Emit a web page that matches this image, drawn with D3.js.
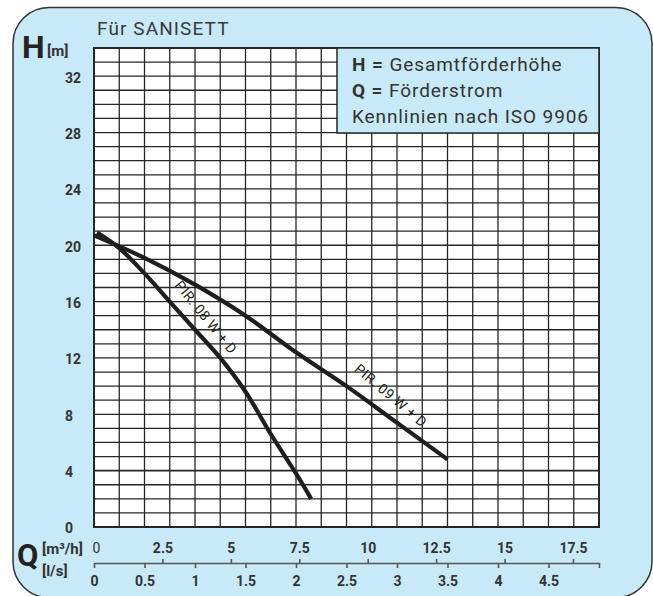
<!DOCTYPE html>
<html lang="de">
<head>
  <meta charset="UTF-8">
  <title>Kennlinien SANISETT</title>
  <style>
    body { margin: 0; background: #fff; }
    svg { display: block; font-family: Roboto, "Noto Sans", sans-serif; }
  </style>
</head>
<body>
  <svg class="chart"></svg>
  <script src="https://cdn.jsdelivr.net/npm/d3@7/dist/d3.min.js"></script>
  <script>
    // Förderstrom Q in l/s, Förderhöhe H in m
    var pir08Q = [0.03, 0.25, 0.5, 0.75, 1.0, 1.25, 1.5, 1.75, 2.0, 2.15];
    var pir08H = [20.9, 19.8, 18.0, 16.0, 14.0, 12.0, 9.6, 6.6, 3.8, 2.0];
    var pir09Q = [0, 0.5, 1.0, 1.5, 2.0, 2.5, 3.0, 3.5];
    var pir09H = [20.7, 19.1, 17.2, 15.0, 12.4, 10.0, 7.4, 4.8];

    var hTicks = [0, 4, 8, 12, 16, 20, 24, 28, 32];
    var lsTicks = [0, 0.5, 1, 1.5, 2, 2.5, 3, 3.5, 4, 4.5, 5];
    var m3Ticks = [0, 2.5, 5, 7.5, 10, 12.5, 15, 17.5];

    var width = 653, height = 596;
    var plotL = 94, plotR = 599, plotT = 48, plotB = 527;
    var ink = "#262626", blue = "#c7e9f8";

    var svg = d3.select("svg")
      .attr("width", width)
      .attr("height", height);

    var x = d3.scaleLinear().domain([0, 5]).range([plotL, plotR]);
    // the m³/h scale in the original is not exactly 3.6 x l/s
    var xM3 = d3.scaleLinear().domain([0, 18.45]).range([plotL, plotR]);
    var y = d3.scaleLinear().domain([0, 34]).range([plotB, plotT]);

    // background card
    svg.append("rect")
      .attr("x", 13).attr("y", 7.5)
      .attr("width", 639).attr("height", 590)
      .attr("rx", 36)
      .attr("fill", blue)
      .attr("stroke", "#333")
      .attr("stroke-width", 1.5);

    // plot area
    svg.append("rect")
      .attr("x", plotL).attr("y", plotT)
      .attr("width", plotR - plotL).attr("height", plotB - plotT)
      .attr("fill", "#fff");

    var grid = svg.append("g").attr("stroke", ink);
    grid.selectAll("line.v")
      .data(d3.range(0, 5.001, 0.25))
      .enter().append("line")
      .attr("class", "v")
      .attr("x1", d => x(d)).attr("x2", d => x(d))
      .attr("y1", plotT).attr("y2", plotB)
      .attr("stroke-width", 1.3);
    grid.selectAll("line.h")
      .data(d3.range(0, 34.001, 1))
      .enter().append("line")
      .attr("class", "h")
      .attr("y1", d => y(d)).attr("y2", d => y(d))
      .attr("x1", plotL).attr("x2", plotR)
      .attr("stroke-width", d => d === 4 ? 1.9 : 1.3);

    svg.append("rect")
      .attr("x", plotL).attr("y", plotT)
      .attr("width", plotR - plotL).attr("height", plotB - plotT)
      .attr("fill", "none")
      .attr("stroke", ink)
      .attr("stroke-width", 2);

    // legend box
    svg.append("rect")
      .attr("x", 337).attr("y", plotT)
      .attr("width", plotR - 337).attr("height", 85)
      .attr("fill", blue)
      .attr("stroke", ink)
      .attr("stroke-width", 1.5);

    var legend = svg.append("g")
      .attr("font-size", 19)
      .attr("letter-spacing", 0.9)
      .attr("fill", "#333");
    var l1 = legend.append("text").attr("x", 352).attr("y", 71);
    l1.append("tspan").attr("font-weight", "bold").text("H = ");
    l1.append("tspan").text("Gesamtförderhöhe");
    var l2 = legend.append("text").attr("x", 352).attr("y", 97);
    l2.append("tspan").attr("font-weight", "bold").text("Q = ");
    l2.append("tspan").text("Förderstrom");
    legend.append("text").attr("x", 352).attr("y", 123)
      .text("Kennlinien nach ISO 9906");

    // curves
    var line = d3.line()
      .x(d => x(d[0]))
      .y(d => y(d[1]))
      .curve(d3.curveCatmullRom);

    svg.append("path")
      .datum(d3.zip(pir08Q, pir08H))
      .attr("d", line)
      .attr("fill", "none")
      .attr("stroke", "#1e1e1e")
      .attr("stroke-width", 4.2);
    svg.append("path")
      .datum(d3.zip(pir09Q, pir09H))
      .attr("d", line)
      .attr("fill", "none")
      .attr("stroke", "#1e1e1e")
      .attr("stroke-width", 4.2);

    svg.append("text")
      .attr("transform", `translate(${x(1.11)},${y(14.9)}) rotate(51)`)
      .attr("text-anchor", "middle")
      .attr("dominant-baseline", "central")
      .attr("font-size", 14)
      .attr("letter-spacing", 0.4)
      .attr("fill", "#222")
      .text("PIR. 08 W + D");
    svg.append("text")
      .attr("transform", `translate(${x(2.94)},${y(9.35)}) rotate(40)`)
      .attr("text-anchor", "middle")
      .attr("dominant-baseline", "central")
      .attr("font-size", 14)
      .attr("letter-spacing", 0.4)
      .attr("fill", "#222")
      .text("PIR. 09 W + D");

    // H axis labels
    svg.append("g")
      .selectAll("text")
      .data(hTicks)
      .enter().append("text")
      .attr("x", 65)
      .attr("y", d => y(d) + 1.5)
      .attr("dy", "0.35em")
      .attr("font-size", 14)
      .attr("font-weight", "bold")
      .attr("fill", "#333")
      .text(d => d);

    // Q axes (l/s below, m³/h above one shared line)
    var axisY = 563;
    var lsAxis = svg.append("g")
      .attr("transform", `translate(0,${axisY})`)
      .call(d3.axisBottom(x)
        .tickValues(lsTicks)
        .tickSize(5)
        .tickSizeOuter(0)
        .tickPadding(8)
        .tickFormat(d => d === 5 ? "" : d));
    var m3Axis = svg.append("g")
      .attr("transform", `translate(0,${axisY})`)
      .call(d3.axisTop(xM3)
        .tickValues(m3Ticks)
        .tickSize(4)
        .tickSizeOuter(0)
        .tickPadding(6)
        .tickFormat(d => d));
    m3Axis.select(".domain").remove();
    m3Axis.selectAll(".tick line").filter(d => d === 0).remove();
    m3Axis.selectAll(".tick text").filter(d => d === 0)
      .attr("x", 2).attr("font-weight", "normal");

    [lsAxis, m3Axis].forEach(function (g) {
      g.attr("font-family", null).attr("font-size", null);
      g.selectAll(".domain, .tick line")
        .attr("stroke", "#555")
        .attr("stroke-width", 1.6);
      g.selectAll(".tick text")
        .attr("font-size", 14)
        .attr("fill", "#333")
        .filter(function () { return !this.getAttribute("font-weight"); })
        .attr("font-weight", "bold");
    });

    // titles
    svg.append("text")
      .attr("x", 97).attr("y", 35)
      .attr("font-size", 19)
      .attr("letter-spacing", 1.1)
      .attr("fill", "#3a3a3a")
      .text("Für SANISETT");

    svg.append("text")
      .attr("x", 22).attr("y", 58)
      .attr("font-size", 32)
      .attr("font-weight", "bold")
      .attr("fill", "#222")
      .text("H");
    svg.append("text")
      .attr("x", 47).attr("y", 56)
      .attr("font-size", 15)
      .attr("font-weight", "bold")
      .attr("fill", "#333")
      .text("[m]");

    svg.append("text")
      .attr("x", 17).attr("y", 566)
      .attr("font-size", 31)
      .attr("font-weight", "bold")
      .attr("fill", "#222")
      .text("Q");
    svg.append("text")
      .attr("x", 42).attr("y", 554)
      .attr("font-size", 15)
      .attr("font-weight", "bold")
      .attr("fill", "#333")
      .text("[m³/h]");
    svg.append("text")
      .attr("x", 42).attr("y", 576)
      .attr("font-size", 15)
      .attr("font-weight", "bold")
      .attr("fill", "#333")
      .text("[l/s]");
  </script>
</body>
</html>
